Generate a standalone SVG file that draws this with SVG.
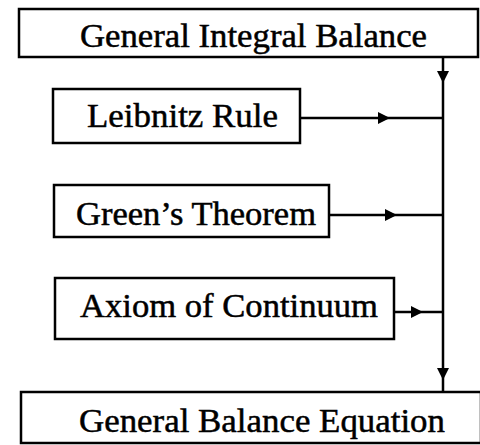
<svg xmlns="http://www.w3.org/2000/svg" width="480" height="445" viewBox="0 0 480 445">
<defs>
<style>
.box{fill:#fff;stroke:#000;stroke-width:2.5}
.lbl{font-family:"Liberation Serif","Times New Roman",serif;font-size:34px;fill:#000;stroke:#000;stroke-width:0.5}
.con{fill:none;stroke:#000;stroke-width:2.5}
</style>
<marker id="ah" markerUnits="userSpaceOnUse" viewBox="0 0 12 12" refX="12" refY="6" markerWidth="12" markerHeight="12" orient="auto">
<path d="M0 0 L12 6 L0 12 z" fill="#000"/>
</marker>
</defs>
<rect width="480" height="445" fill="#fff"/>
<g id="connectors">
<path class="con" d="M443 57 L443 83 L443 380 L443 392" marker-mid="url(#ah)"/>
<path class="con" d="M300 118 L390 118 L443 118" marker-mid="url(#ah)"/>
<path class="con" d="M329 215 L397 215 L443 215" marker-mid="url(#ah)"/>
<path class="con" d="M394 312 L423 312 L443 312" marker-mid="url(#ah)"/>
</g>
<g id="general-integral-balance">
<rect class="box" x="19" y="9" width="459" height="48"/>
<text class="lbl" x="80" y="47" textLength="347" lengthAdjust="spacingAndGlyphs">General Integral Balance</text>
</g>
<g id="leibnitz-rule">
<rect class="box" x="53" y="89" width="247" height="54"/>
<text class="lbl" x="87" y="127" textLength="191" lengthAdjust="spacingAndGlyphs">Leibnitz Rule</text>
</g>
<g id="greens-theorem">
<rect class="box" x="54" y="185" width="275" height="52"/>
<text class="lbl" x="76" y="225" textLength="240" lengthAdjust="spacingAndGlyphs">Green’s Theorem</text>
</g>
<g id="axiom-of-continuum">
<rect class="box" x="55" y="278" width="339" height="61"/>
<text class="lbl" x="80" y="317" textLength="298" lengthAdjust="spacingAndGlyphs">Axiom of Continuum</text>
</g>
<g id="general-balance-equation">
<rect class="box" x="21" y="392" width="460" height="51"/>
<text class="lbl" x="79" y="432" textLength="366" lengthAdjust="spacingAndGlyphs">General Balance Equation</text>
</g>
</svg>
